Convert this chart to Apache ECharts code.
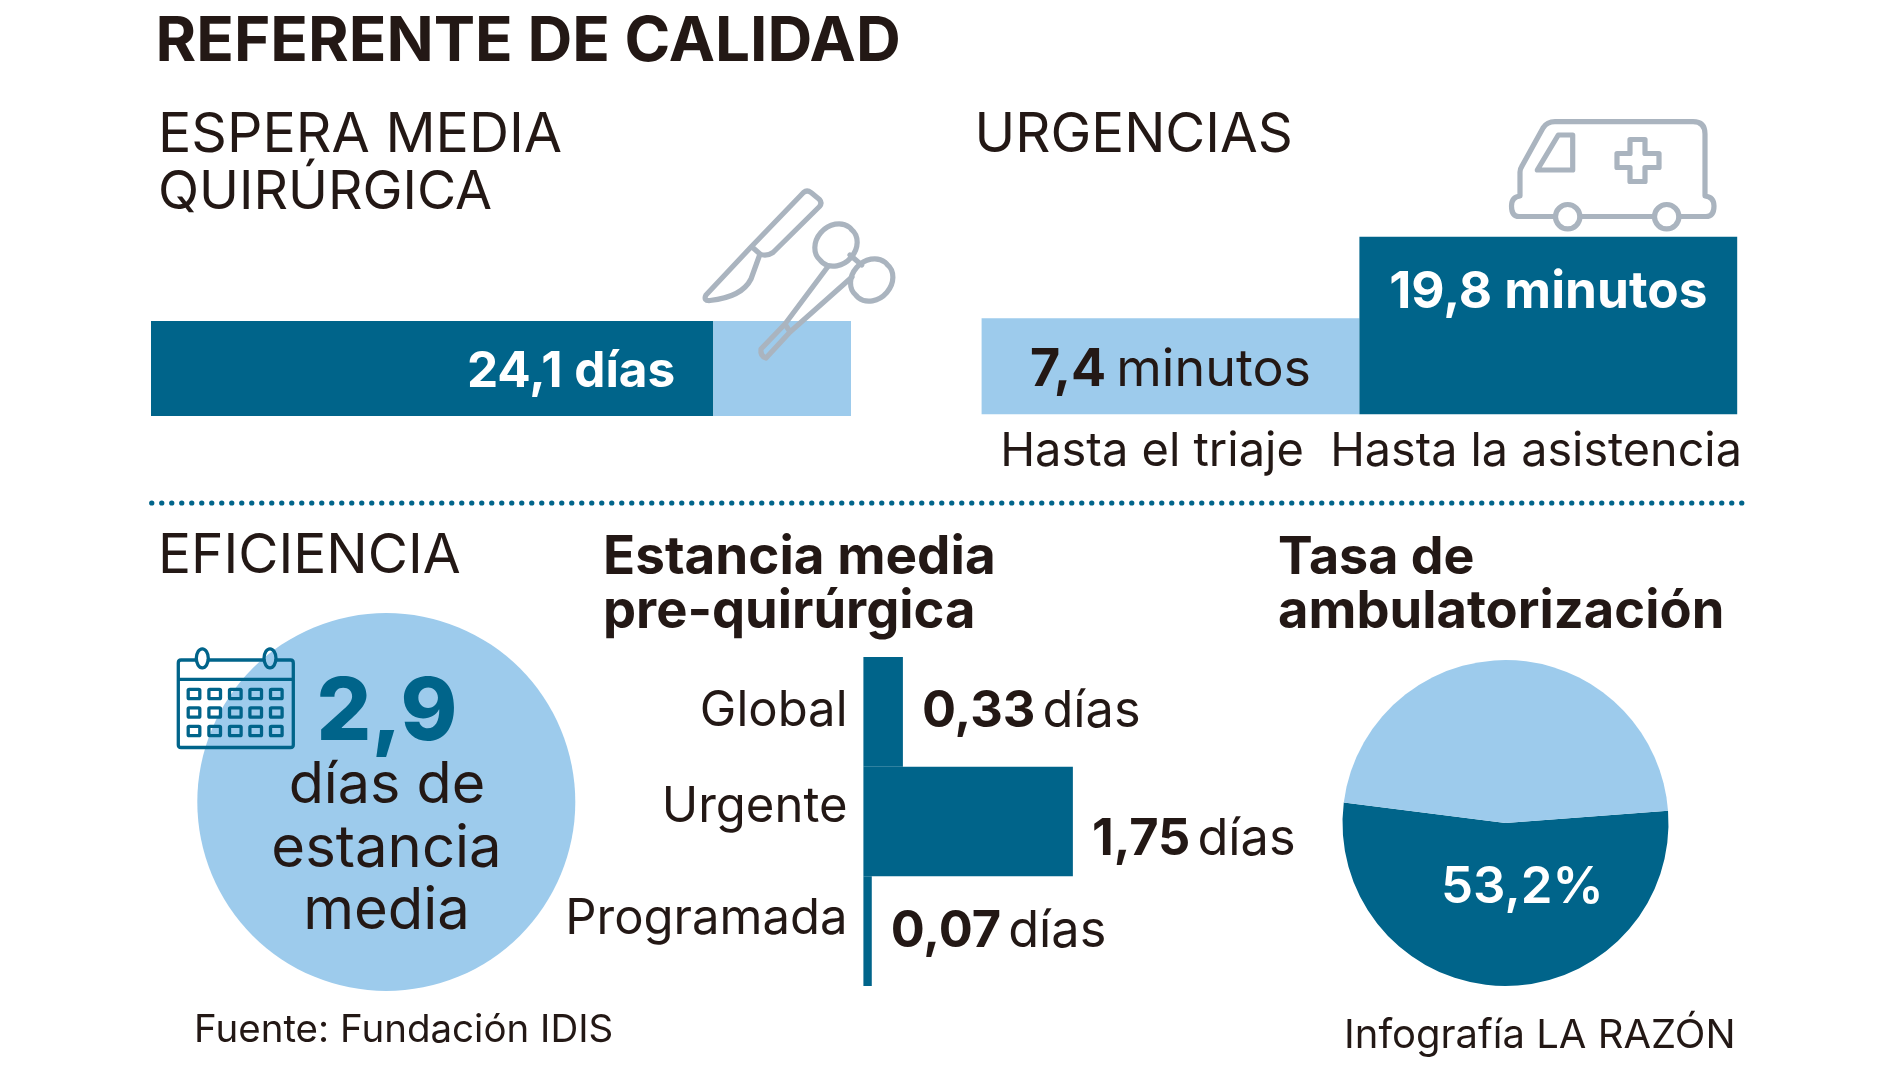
<!DOCTYPE html>
<html>
<head>
<meta charset="utf-8">
<title>Referente de calidad</title>
<style>
html, body { margin: 0; padding: 0; background: #fff; }
#chart { width: 1900px; height: 1069px; }
</style>
<script src="https://cdn.jsdelivr.net/npm/echarts@6/dist/echarts.min.js"></script>
</head>
<body>
<div id="chart"></div>
<script>
// datos
var esperaCategorias = ['Espera media'];
var esperaDias = [24.1];
var esperaResto = [5.9];

var urgenciasCategorias = ['Hasta el triaje', 'Hasta la asistencia'];
var urgenciasMinutos = [7.4, 19.8];
var urgenciasBase = [7.2, 7.2]; // las barras del original no arrancan en cero

var estanciaMedia = [2.9];

var preCategorias = ['Global', 'Urgente', 'Programada'];
var preDias = [0.33, 1.75, 0.07];

var ambulatorizacion = [53.2, 46.8];

// colores y fuente
var AZUL = '#00648a';
var CLARO = '#9dcbec';
var TINTA = '#231815';
var GRIS = '#aab4bf';
var FUENTE = 'Inter';

var urgenciasColores = [CLARO, AZUL];

function coma(v) { return String(v).replace('.', ','); }

// texto suelto, y = linea base
function txt(text, x, base, size, weight, align, color) {
    return {
        type: 'text', z: 20, silent: true,
        x: x, y: base - size * 0.31,
        style: {
            text: text,
            fontFamily: FUENTE, fontSize: size, fontWeight: weight,
            fill: color || TINTA,
            textAlign: align || 'left', textVerticalAlign: 'middle'
        }
    };
}

// el componente graphic no tiene tipo path: se registra cada icono como forma
var numTrazo = 0;
function trazo(pathData, color, ancho) {
    var nombre = 'icono' + (numTrazo++);
    echarts.graphic.registerShape(nombre, echarts.graphic.extendPath(pathData, {}));
    return {
        type: nombre, z: 15, silent: true,
        shape: {},
        style: { fill: 'none', stroke: color, lineWidth: ancho, lineJoin: 'round', lineCap: 'round' }
    };
}

var graphics = [];

// titulos
graphics.push(txt('REFERENTE DE CALIDAD', 155.6, 61.5, 62, 700));
graphics.push(txt('ESPERA MEDIA', 158, 153, 55.5, 400));
graphics.push(txt('QUIRÚRGICA', 158, 209, 53.7, 400));
graphics.push(txt('URGENCIAS', 974.6, 153, 54.7, 400));
graphics.push(txt('EFICIENCIA', 158, 574, 55, 400));
graphics.push(txt('Estancia media', 603, 574, 53, 700));
graphics.push(txt('pre-quirúrgica', 603, 628, 52.5, 700));
graphics.push(txt('Tasa de', 1278, 574, 52, 700));
graphics.push(txt('ambulatorización', 1278, 628, 52.5, 700));

// etiquetas de urgencias
graphics.push(txt(urgenciasCategorias[0], 1152, 466.5, 47, 400, 'center'));
graphics.push(txt(urgenciasCategorias[1], 1536, 466.5, 46.7, 400, 'center'));

// etiquetas de pre-quirurgica
var preBases = [726.7, 822.5, 934.5];
preCategorias.forEach(function (c, i) {
    graphics.push(txt(c, 847.5, preBases[i], 49, 400, 'right'));
});

// circulo de eficiencia
graphics.push(txt(coma(estanciaMedia[0]), 387, 741, 86, 800, 'center', AZUL));
graphics.push(txt('días de', 387, 804, 57.5, 400, 'center'));
graphics.push(txt('estancia', 386.5, 867.5, 58, 400, 'center'));
graphics.push(txt('media', 386.5, 930, 58, 400, 'center'));

// pies
graphics.push(txt('Fuente: Fundación IDIS', 194, 1042, 38.5, 400));
graphics.push(txt('Infografía LA RAZÓN', 1344, 1048.5, 40, 400));

// separador punteado
graphics.push({
    type: 'line', z: 15, silent: true,
    shape: { x1: 151.7, y1: 503, x2: 1749, y2: 503 },
    style: { stroke: AZUL, lineWidth: 5.2, lineCap: 'round', lineDash: [0.1, 9.9] }
});

// ambulancia
graphics.push(trazo('M1555.5,216.5 H1519 Q1511.5,216.5 1511.5,206 Q1511.5,197 1520,196 V172 Q1520,169 1522,166 L1543,128 Q1547,121.7 1555,121.7 H1693 Q1705,121.7 1705,134 V196 Q1714,197 1714,206 Q1714,216.5 1706,216.5 H1679 M1654.5,216.5 H1580', GRIS, 5.2));
graphics.push(trazo('M1558.3,135 H1572.7 V170 H1537.3 Z', GRIS, 5.2));
graphics.push(trazo('M1630,139.5 H1645 V153.5 H1659 V167.5 H1645 V181.5 H1630 V167.5 H1617 V153.5 H1630 Z', GRIS, 5.2));
graphics.push(trazo('M1555.5,216.7 a12.2,12.2 0 1,0 24.4,0 a12.2,12.2 0 1,0 -24.4,0 M1654.5,216.7 a12.2,12.2 0 1,0 24.4,0 a12.2,12.2 0 1,0 -24.4,0', GRIS, 5.2));

// bisturi
graphics.push(trazo('M803.5,192.5 Q807,189.5 811,192.5 L819.5,199.5 Q822.5,203 819.5,206.5 L773,252.5 Q766,257 760,254 L751.5,246.5 Z M751.5,246.5 L706,295 Q703,301 710,300.5 Q742,297 751,279 Q755,268 760,254', GRIS, 5.2));
// pinzas
graphics.push(trazo('M820.5,260.5 a22,18 -45 1,1 31,-31 a22,18 -45 1,1 -31,31 Z M856.2,295.5 a22,18 -45 1,1 31,-31 a22,18 -45 1,1 -31,31 Z', GRIS, 5.2));
graphics.push(trazo('M828,266.5 L785,324 L761,349 Q760,356 766,358 L790,332 L852,277 M850,255 L861.7,265 M785,324 L790,332', GRIS, 5.2));

// calendario
graphics.push(trazo('M196.3,660 H181 Q178.3,660 178.3,663 V745 Q178.3,747.5 181,747.5 H290.5 Q293.3,747.5 293.3,745 V663 Q293.3,660 290.5,660 H276 M208.3,660 H264 M178.3,679.3 H293.3', AZUL, 3.3));
graphics.push(trazo('M196.3,658.3 a6,9.5 0 1,0 12,0 a6,9.5 0 1,0 -12,0 M264,658.3 a6,9.5 0 1,0 12,0 a6,9.5 0 1,0 -12,0', AZUL, 3.3));
[194, 214.7, 235.3, 255.7, 276.3].forEach(function (cx) {
    [694, 712.5, 731].forEach(function (cy) {
        graphics.push({
            type: 'rect', z: 15, silent: true,
            shape: { x: cx - 5.8, y: cy - 4.7, width: 11.6, height: 9.4, r: 1 },
            style: { fill: 'none', stroke: AZUL, lineWidth: 3.3 }
        });
    });
});

var myChart = echarts.init(document.getElementById('chart'), null, { renderer: 'canvas' });

var option = {
    animation: false,
    backgroundColor: '#fff',
    textStyle: { fontFamily: FUENTE },
    grid: [
        { left: 151, top: 321, width: 700, height: 95 },
        { left: 981.6, top: 236.7, width: 755.6, height: 177.6 },
        { left: 863.4, top: 657, width: 239.4, height: 329 }
    ],
    xAxis: [
        { gridIndex: 0, type: 'value', min: 0, max: 30, show: false },
        { gridIndex: 1, type: 'category', data: urgenciasCategorias, show: false },
        { gridIndex: 2, type: 'value', min: 0, max: 2, show: false }
    ],
    yAxis: [
        { gridIndex: 0, type: 'category', data: esperaCategorias, show: false },
        { gridIndex: 1, type: 'value', min: 0, max: 27, show: false },
        { gridIndex: 2, type: 'category', data: preCategorias, inverse: true, show: false }
    ],
    series: [
        {
            type: 'bar', xAxisIndex: 0, yAxisIndex: 0, stack: 'espera', barWidth: '100%', silent: true,
            data: esperaDias, itemStyle: { color: AZUL },
            label: {
                show: true, position: 'insideRight', distance: 38, offset: [0, 4],
                color: '#fff', fontSize: 49.5, fontWeight: 700, fontFamily: FUENTE,
                formatter: function (p) { return coma(p.value) + ' días'; }
            }
        },
        {
            type: 'bar', xAxisIndex: 0, yAxisIndex: 0, stack: 'espera', barWidth: '100%', silent: true,
            data: esperaResto, itemStyle: { color: CLARO }
        },
        {
            // tramo inferior de urgencias, mismo color que su barra
            type: 'bar', xAxisIndex: 1, yAxisIndex: 1, stack: 'urgencias', barWidth: '100%', silent: true,
            data: urgenciasBase.map(function (v, i) {
                return { value: v, itemStyle: { color: urgenciasColores[i] } };
            })
        },
        {
            type: 'bar', xAxisIndex: 1, yAxisIndex: 1, stack: 'urgencias', barWidth: '100%', silent: true,
            data: [
                {
                    value: urgenciasMinutos[0], itemStyle: { color: urgenciasColores[0] },
                    label: {
                        show: true, position: 'inside', offset: [0, 28],
                        formatter: function (p) { return '{b|' + coma(p.value) + '}{r|minutos}'; },
                        rich: {
                            b: { fontFamily: FUENTE, fontSize: 52, fontWeight: 700, color: TINTA },
                            r: { fontFamily: FUENTE, fontSize: 52, fontWeight: 400, color: TINTA, padding: [0, 0, 0, 10] }
                        }
                    }
                },
                {
                    value: urgenciasMinutos[1], itemStyle: { color: urgenciasColores[1] },
                    label: {
                        show: true, position: 'insideTop', distance: 30,
                        color: '#fff', fontSize: 51.3, fontWeight: 700, fontFamily: FUENTE,
                        formatter: function (p) { return coma(p.value) + ' minutos'; }
                    }
                }
            ]
        },
        {
            type: 'bar', xAxisIndex: 2, yAxisIndex: 2, barWidth: '100%', silent: true,
            itemStyle: { color: AZUL },
            data: preDias.map(function (v, i) {
                return { value: v, label: { offset: [0, [0, 18, 0.5][i]] } };
            }),
            label: {
                show: true, position: 'right', distance: 19,
                formatter: function (p) { return '{b|' + coma(p.value) + '}{r|días}'; },
                rich: {
                    b: { fontFamily: FUENTE, fontSize: 50.5, fontWeight: 700, color: TINTA },
                    r: { fontFamily: FUENTE, fontSize: 50.5, fontWeight: 400, color: TINTA, padding: [0, 0, 0, 7] }
                }
            }
        },
        {
            // circulo de eficiencia
            type: 'pie', center: [386.3, 802], radius: [0, 189], silent: true,
            label: { show: false }, labelLine: { show: false },
            data: [{ name: 'Estancia media', value: estanciaMedia[0], itemStyle: { color: CLARO } }]
        },
        {
            // tasa de ambulatorizacion
            type: 'pie', center: [1505.5, 823], radius: [0, 163], startAngle: 4.3, clockwise: true, silent: true,
            labelLine: { show: false },
            data: [
                {
                    name: 'Ambulatorización', value: ambulatorizacion[0], itemStyle: { color: AZUL },
                    label: {
                        show: true, position: 'inside', offset: [19, -20],
                        color: '#fff', fontFamily: FUENTE, fontSize: 51, fontWeight: 600,
                        formatter: function (p) { return coma(p.value) + '%'; }
                    }
                },
                { name: 'Resto', value: ambulatorizacion[1], itemStyle: { color: CLARO }, label: { show: false } }
            ]
        }
    ],
    graphic: graphics
};
myChart.setOption(option);
window.addEventListener('resize', function () { myChart.resize(); });
</script>
</body>
</html>
